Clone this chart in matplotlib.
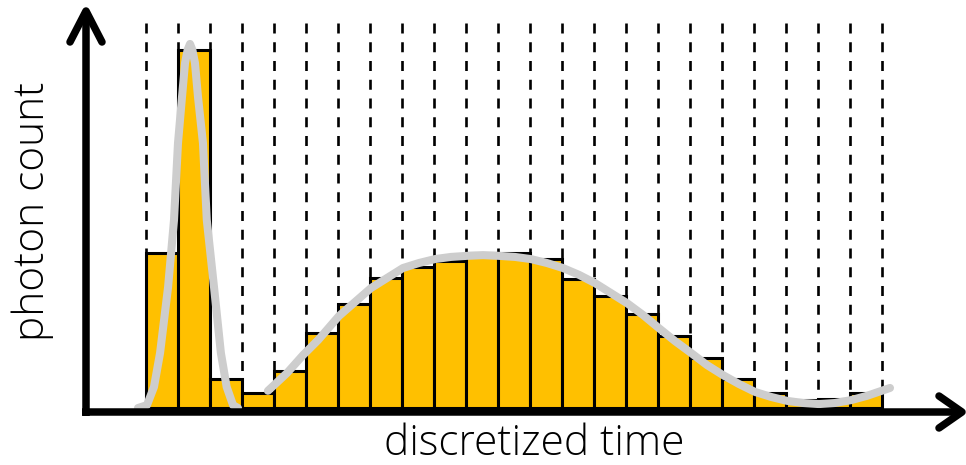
import matplotlib
import matplotlib.pyplot as plt
plt.switch_backend('agg')
import matplotlib.transforms as mtransforms
import numpy as np

# photon counts per time bin
counts = [43.2, 100.0, 8.0, 4.1, 10.3, 20.9, 29.1, 36.2, 39.5, 41.1, 43.4, 43.4,
          41.5, 36.0, 31.3, 26.3, 20.1, 13.9, 8.0, 4.1, 2.2, 2.4, 4.3]
bins = np.arange(len(counts))

# fitted model, narrow peak (x in bin units, y in counts)
peak_x = [-0.25, 0.03, 0.25, 0.44, 0.69, 0.875, 1.0, 1.125, 1.22, 1.30, 1.375,
          1.45, 1.53, 1.625, 1.78, 1.90, 2.125, 2.34, 2.52, 2.72, 2.875]
peak_y = [0.0, 0.8, 5.9, 15.4, 33.8, 52.5, 74.0, 86.9, 96.4, 100.0, 101.7,
          100.0, 96.4, 86.9, 74.0, 52.5, 33.8, 15.4, 5.9, 0.8, 0.0]

# fitted model, broad component
broad_x = [3.81, 4.41, 4.91, 5.38, 6.03, 6.53, 7.03, 7.53, 8.03, 8.53, 9.03,
           9.53, 10.03, 10.53, 11.03, 11.53, 12.03, 12.53, 13.03, 13.53, 14.03,
           14.53, 15.03, 15.53, 16.03, 16.53, 17.03, 17.53, 18.03, 18.53, 19.03,
           19.53, 20.03, 20.53, 21.03, 21.53, 22.03, 22.53, 23.25]
broad_y = [4.8, 9.8, 14.8, 19.0, 25.7, 29.6, 33.5, 36.3, 39.1, 40.5, 41.6,
           42.2, 42.5, 42.7, 42.5, 42.2, 41.6, 40.5, 39.1, 37.2, 34.9,
           32.1, 29.3, 26.0, 22.3, 18.7, 15.4, 12.0, 9.2, 6.7, 4.5,
           3.1, 2.0, 1.4, 1.1, 1.4, 2.2, 3.4, 5.6]

GOLD = '#FFC000'
GREY = '#CDCDCD'
GRID_TOP = 107.5

plt.rcParams['lines.scale_dashes'] = False

fig = plt.figure(figsize=(9.66, 4.65), dpi=100)
ax = fig.add_axes([0, 0, 1, 1])
ax.set_xlim(-4.5625, 25.625)
ax.set_ylim(-15.92, 113.97)
ax.axis('off')

# dashed bin edges
edges = np.arange(len(counts) + 1)
ax.vlines(edges, GRID_TOP, 0, colors='black', linewidth=1.9,
          linestyles=(0, (7.2, 6.3)), zorder=1)

ax.bar(bins, counts, width=1, align='edge', color=GOLD,
       edgecolor='black', linewidth=2.2, zorder=2)

ax.plot(peak_x, peak_y, color=GREY, lw=5.8, solid_capstyle='round',
        solid_joinstyle='round', zorder=3)
ax.plot(broad_x, broad_y, color=GREY, lw=5.8, solid_capstyle='round',
        solid_joinstyle='round', zorder=3)

# axes with open arrow heads, drawn in pixel space
pix = mtransforms.Affine2D().scale(1 / 966, -1 / 465).translate(0, 1) + fig.transFigure
axis_kw = dict(color='black', lw=5.4, transform=pix, clip_on=False, zorder=5)
ax.plot([86, 86], [416, 12], solid_capstyle='butt', **axis_kw)
ax.plot([70, 86, 102], [42, 11, 42], solid_capstyle='round',
        solid_joinstyle='round', **axis_kw)
ax.plot([82, 961], [412, 412], solid_capstyle='butt', **axis_kw)
ax.plot([939, 962, 939], [396, 412, 428], solid_capstyle='round',
        solid_joinstyle='round', **axis_kw)

fig.text(534 / 966, 1 - 444 / 465, 'discretized time', ha='center', va='center',
         fontsize=30.5, family='Open Sans', fontweight='light')
fig.text(33 / 966, 1 - 211 / 465, 'photon count', ha='center', va='center',
         rotation=90, fontsize=30.5, family='Open Sans', fontweight='light')

fig.savefig('out.png', dpi=100)
